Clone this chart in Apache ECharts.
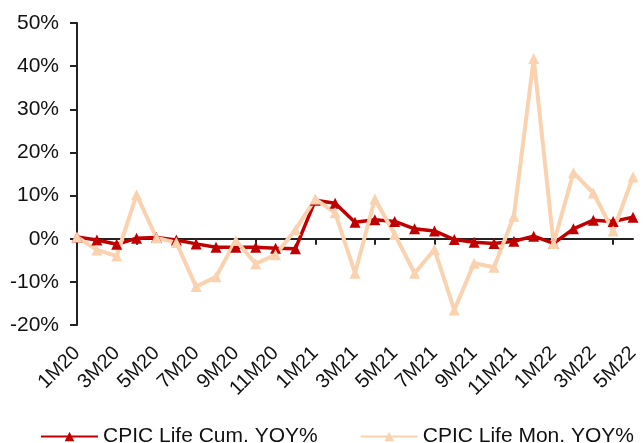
<!DOCTYPE html>
<html>
<head>
<meta charset="utf-8">
<script src="https://cdn.jsdelivr.net/npm/echarts@6/dist/echarts.min.js"></script>
<style>
  html, body { margin: 0; padding: 0; background: #fff; }
  #chart { width: 644px; height: 443px; }
</style>
</head>
<body>
<div id="chart"></div>
<script>
// months 1M20 .. 5M22
const months = [
  "1M20", "2M20", "3M20", "4M20", "5M20", "6M20", "7M20", "8M20", "9M20", "10M20", "11M20", "12M20",
  "1M21", "2M21", "3M21", "4M21", "5M21", "6M21", "7M21", "8M21", "9M21", "10M21", "11M21", "12M21",
  "1M22", "2M22", "3M22", "4M22", "5M22"
];
// cumulative yoy %
const cumYoy = [
  0.4, -0.3, -1.3, 0.1, 0.3, -0.3, -1.2, -2.0, -2.0, -2.0, -2.2, -2.3,
  8.9, 8.2, 3.8, 4.4, 4.0, 2.3, 1.8, -0.2, -0.8, -1.1, -0.6, 0.6,
  -1.1, 2.3, 4.3, 4.0, 5.0
];
// monthly yoy %
const monYoy = [
  0.4, -2.6, -4.0, 10.2, 0.2, -0.9, -11.1, -8.8, -0.4, -5.8, -3.7, 2.1,
  9.2, 6.0, -8.0, 9.2, 1.0, -8.0, -2.5, -16.5, -5.7, -6.6, 5.2, 41.8,
  -1.1, 15.3, 10.6, 1.8, 14.3
];
const yTicks = { min: -20, max: 50, step: 10 };

const myChart = echarts.init(document.getElementById("chart"));
const font = "Liberation Sans, Arial, sans-serif";

myChart.setOption({
  animation: false,
  textStyle: { fontFamily: font },
  grid: { left: 77, right: 11, top: 23, bottom: 118 },
  legend: {
    top: 421,
    left: 35,
    itemWidth: 57,
    itemHeight: 12,
    itemGap: 42,
    textStyle: { fontSize: 21, color: "#111", fontFamily: font },
    data: ["CPIC Life Cum. YOY%", "CPIC Life Mon. YOY%"]
  },
  xAxis: [
    {
      type: "category",
      data: months,
      boundaryGap: false,
      axisLine: { onZero: true, lineStyle: { color: "#222", width: 2 } },
      axisTick: { show: true, inside: false, length: 6, lineStyle: { color: "#222", width: 2 } },
      axisLabel: { show: false }
    },
    {
      type: "category",
      data: months,
      boundaryGap: false,
      position: "bottom",
      axisLine: { show: false, onZero: false },
      axisTick: { show: false },
      axisLabel: {
        interval: 1,
        rotate: 45,
        margin: 25,
        fontSize: 20,
        color: "#111",
        fontFamily: font
      }
    }
  ],
  yAxis: {
    type: "value",
    min: yTicks.min,
    max: yTicks.max,
    interval: yTicks.step,
    splitLine: { show: false },
    axisLine: { show: true, lineStyle: { color: "#222", width: 2 } },
    axisTick: { show: true, length: 7, lineStyle: { color: "#222", width: 2 } },
    axisLabel: { formatter: "{value}%", fontSize: 21, color: "#111", margin: 18, fontFamily: font }
  },
  series: [
    {
      name: "CPIC Life Cum. YOY%",
      type: "line",
      xAxisIndex: 0,
      data: cumYoy,
      symbol: "triangle",
      symbolSize: 11,
      lineStyle: { color: "#C00000", width: 3.5 },
      itemStyle: { color: "#C00000" }
    },
    {
      name: "CPIC Life Mon. YOY%",
      type: "line",
      xAxisIndex: 0,
      data: monYoy,
      symbol: "triangle",
      symbolSize: 11,
      lineStyle: { color: "#FAD2B0", width: 4 },
      itemStyle: { color: "#FAD2B0" }
    }
  ]
});
</script>
</body>
</html>
